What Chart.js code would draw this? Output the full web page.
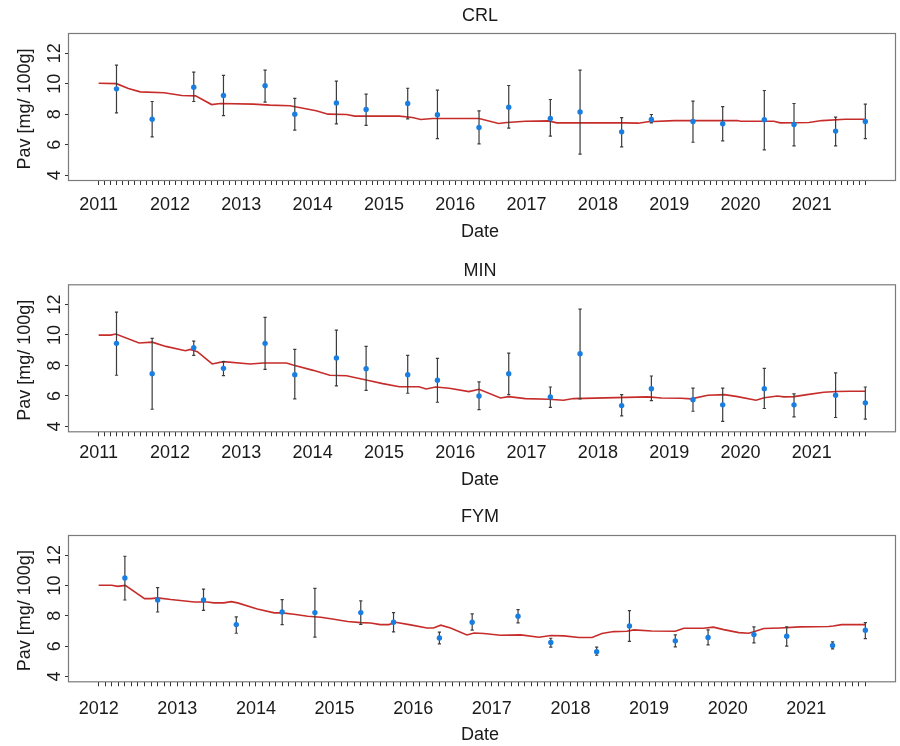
<!DOCTYPE html>
<html>
<head>
<meta charset="utf-8">
<script src="https://cdn.jsdelivr.net/npm/chart.js@4.4.1/dist/chart.umd.min.js"></script>
<style>
  html, body { margin: 0; padding: 0; background: #fff; }
  body { width: 900px; height: 746px; position: relative; overflow: hidden; }
  .panel { position: absolute; left: 0; width: 900px; }
  .panel canvas { display: block; }
</style>
</head>
<body>
<div class="panel" style="top:0px;height:250px"><canvas id="crl" width="900" height="250"></canvas></div>
<div class="panel" style="top:250px;height:245px"><canvas id="min" width="900" height="245"></canvas></div>
<div class="panel" style="top:495px;height:251px"><canvas id="fym" width="900" height="251"></canvas></div>
<script>
const FONT = '"Liberation Sans", Arial, Helvetica, sans-serif';
const TEXT = "#1a1a1a";

// month index 0 = January of the first year on each axis
const yearsA = [2011, 2012, 2013, 2014, 2015, 2016, 2017, 2018, 2019, 2020, 2021];
const yearsB = [2012, 2013, 2014, 2015, 2016, 2017, 2018, 2019, 2020, 2021];
const yTicks = [4, 6, 8, 10, 12];

// ── CRL ──
const crlMonths = [3, 9, 16, 21, 28, 33, 40, 45, 52, 57, 64, 69, 76, 81, 88, 93, 100, 105, 112, 117, 124, 129];
const crlMean = [9.66, 7.67, 9.77, 9.22, 9.86, 8.0, 8.74, 8.31, 8.70, 7.96, 7.13, 8.46, 7.72, 8.15, 6.84, 7.65, 7.52, 7.37, 7.63, 7.32, 6.89, 7.52];
const crlLow = [8.09, 6.51, 8.83, 7.91, 8.79, 6.95, 7.37, 7.26, 7.69, 6.40, 6.05, 7.08, 6.56, 5.38, 5.86, 7.43, 6.16, 6.25, 5.66, 5.92, 5.92, 6.40];
const crlHigh = [11.21, 8.83, 10.75, 10.54, 10.89, 9.03, 10.16, 9.31, 9.70, 9.57, 8.22, 9.88, 8.96, 10.89, 7.78, 7.98, 8.85, 8.50, 9.55, 8.70, 7.80, 8.66];
const crlLineMonths = [0, 3, 5, 7, 11, 14, 16.3, 19, 20.5, 26, 28.8, 32.2, 36.6, 38.6, 41.7, 43.1, 50.6, 52.8, 54.2, 56.2, 64, 67.3, 68.7, 71.8, 75.7, 77.1, 88.5, 90.8, 92.4, 96.9, 107.5, 108, 113.6, 114.7, 119.5, 121.7, 125.6, 129];
const crlLineValues = [10.03, 10.0, 9.68, 9.46, 9.40, 9.22, 9.20, 8.63, 8.70, 8.66, 8.59, 8.55, 8.22, 8.0, 7.98, 7.87, 7.87, 7.78, 7.65, 7.72, 7.72, 7.39, 7.45, 7.54, 7.56, 7.43, 7.43, 7.41, 7.50, 7.58, 7.58, 7.54, 7.54, 7.43, 7.45, 7.58, 7.67, 7.67];

// ── MIN ──
const minMonths = [3, 9, 16, 21, 28, 33, 40, 45, 52, 57, 64, 69, 76, 81, 88, 93, 100, 105, 112, 117, 124, 129];
const minMean = [9.45, 7.46, 9.16, 7.81, 9.45, 7.40, 8.49, 7.79, 7.40, 7.03, 6.0, 7.46, 5.94, 8.77, 5.37, 6.48, 5.76, 5.42, 6.48, 5.42, 6.05, 5.55];
const minLow = [7.36, 5.13, 8.66, 7.33, 7.75, 5.81, 6.66, 6.37, 6.18, 5.59, 5.11, 6.09, 5.26, 5.81, 4.70, 5.70, 5.0, 4.33, 5.18, 4.63, 4.59, 4.48];
const minHigh = [11.49, 9.77, 9.60, 8.25, 11.15, 9.05, 10.32, 9.25, 8.66, 8.47, 6.92, 8.81, 6.59, 11.69, 6.09, 7.31, 6.51, 6.51, 7.81, 6.14, 7.51, 6.59];
const minLineMonths = [0, 2.0, 2.9, 6.8, 9.0, 11.3, 14.6, 15.45, 16.6, 19.1, 21.0, 25.5, 27.7, 31.6, 32.7, 36.1, 38.9, 41.7, 45.6, 47.8, 50.6, 53.9, 55.1, 56.7, 59.0, 62.3, 64.0, 67.6, 69.0, 71.8, 75.7, 78.2, 79.9, 92.4, 94.7, 98.0, 99.7, 102.5, 105.3, 107.5, 110.6, 112.0, 114.2, 115.3, 117.0, 119.2, 122.0, 124.2, 126.5, 129];
const minLineValues = [9.99, 9.99, 10.06, 9.47, 9.53, 9.25, 8.97, 9.05, 8.90, 8.10, 8.25, 8.10, 8.16, 8.16, 8.03, 7.68, 7.36, 7.33, 7.0, 6.81, 6.61, 6.61, 6.46, 6.59, 6.51, 6.29, 6.44, 5.87, 5.96, 5.83, 5.79, 5.72, 5.83, 5.94, 5.87, 5.85, 5.81, 6.05, 6.09, 5.96, 5.72, 5.89, 6.0, 5.94, 5.96, 6.09, 6.24, 6.29, 6.31, 6.31];

// ── FYM ──
const fymMonths = [4, 9, 16, 21, 28, 33, 40, 45, 52, 57, 64, 69, 76, 81, 88, 93, 100, 105, 112, 117];
const fymMean = [10.49, 9.04, 9.04, 7.42, 8.25, 8.21, 8.21, 7.57, 6.54, 7.57, 7.97, 6.24, 5.64, 7.33, 6.35, 6.57, 6.76, 6.65, 6.04, 7.05];
const fymLow = [9.04, 8.25, 8.36, 6.85, 7.42, 6.59, 7.44, 6.94, 6.15, 7.05, 7.53, 5.93, 5.40, 6.32, 5.95, 6.08, 6.21, 6.0, 5.82, 6.5];
const fymHigh = [11.92, 9.86, 9.75, 7.93, 9.07, 9.81, 8.98, 8.21, 6.92, 8.12, 8.41, 6.52, 5.93, 8.34, 6.74, 7.07, 7.27, 7.27, 6.28, 7.55];
const fymLineMonths = [0, 2.0, 2.9, 4.06, 7.0, 8.0, 9.0, 11.0, 14.6, 16.6, 17.6, 19.1, 20.2, 21.2, 24.2, 26.8, 28.0, 29.8, 31.9, 33.9, 35.9, 38.0, 40.0, 41.5, 43.0, 44.3, 45.3, 47.6, 50.1, 51.1, 52.2, 53.7, 56.2, 57.3, 58.8, 61.3, 64.4, 67.2, 69.0, 71.0, 73.3, 75.3, 76.8, 78.6, 80.6, 81.7, 84.4, 88.0, 89.3, 92.3, 93.8, 95.4, 97.7, 99.2, 100.1, 101.5, 104.0, 107.0, 111.4, 112.1, 113.4, 117];
const fymLineValues = [10.01, 10.01, 9.94, 10.0, 9.13, 9.13, 9.18, 9.07, 8.91, 8.91, 8.85, 8.85, 8.93, 8.85, 8.45, 8.19, 8.19, 8.1, 7.97, 7.9, 7.77, 7.62, 7.55, 7.53, 7.42, 7.42, 7.57, 7.4, 7.2, 7.2, 7.38, 7.2, 6.74, 6.87, 6.83, 6.72, 6.74, 6.59, 6.70, 6.68, 6.57, 6.57, 6.83, 6.96, 6.98, 7.07, 7.0, 6.98, 7.18, 7.18, 7.25, 7.09, 6.89, 6.85, 6.96, 7.16, 7.2, 7.27, 7.29, 7.33, 7.42, 7.42];

// ── Panel builder ──────────────────────────────────────

function makePanel(id, title, years, lastMonth, s, layout) {
  const pad = lastMonth * 0.04;
  const tickMonths = [];
  for (let m = 0; m <= lastMonth; m++) tickMonths.push(m);

  const decor = {
    id: "decor_" + id,
    beforeDatasetDraw(chart, args) {
      if (args.index !== 1) return;
      // error bars under the points
      const { ctx, scales } = chart;
      ctx.save();
      ctx.strokeStyle = "#3c3c3c";
      ctx.lineWidth = 1.2;
      s.months.forEach((m, i) => {
        const x = scales.x.getPixelForValue(m);
        const y0 = scales.y.getPixelForValue(s.low[i]);
        const y1 = scales.y.getPixelForValue(s.high[i]);
        ctx.beginPath();
        ctx.moveTo(x, y0); ctx.lineTo(x, y1);
        ctx.moveTo(x - 1.6, y0); ctx.lineTo(x + 1.6, y0);
        ctx.moveTo(x - 1.6, y1); ctx.lineTo(x + 1.6, y1);
        ctx.stroke();
      });
      ctx.restore();
    },
    afterDraw(chart) {
      const { ctx, chartArea: a, scales } = chart;
      ctx.save();
      ctx.strokeStyle = "#7a7a7a";
      ctx.lineWidth = 1.2;
      ctx.strokeRect(a.left + 0.5, a.top + 0.5, a.right - a.left - 1, a.bottom - a.top - 1);

      ctx.fillStyle = TEXT;
      ctx.font = "18px " + FONT;
      ctx.textAlign = "center";
      ctx.textBaseline = "middle";
      const cx = (a.left + a.right) / 2;
      ctx.fillText(title, cx - 2, layout.titleY);
      ctx.fillText("Date", cx - 2, layout.dateY);

      ctx.textBaseline = "alphabetic";
      yTicks.forEach((v) => {
        ctx.save();
        ctx.translate(59.5, scales.y.getPixelForValue(v));
        ctx.rotate(-Math.PI / 2);
        ctx.fillText(String(v), 0, 0);
        ctx.restore();
      });
      ctx.save();
      ctx.translate(30, (a.top + a.bottom) / 2 + 2);
      ctx.rotate(-Math.PI / 2);
      ctx.fillText("Pav [mg/ 100g]", 0, 0);
      ctx.restore();
      ctx.restore();
    },
  };

  return new Chart(document.getElementById(id), {
    type: "scatter",
    data: {
      datasets: [
        {
          data: s.lineMonths.map((m, i) => ({ x: m, y: s.lineValues[i] })),
          showLine: true,
          borderColor: "#c62d2a",
          borderWidth: 1.6,
          pointRadius: 0,
          tension: 0,
          order: 2,
        },
        {
          data: s.months.map((m, i) => ({ x: m, y: s.mean[i] })),
          backgroundColor: "#1a7ee0",
          borderWidth: 0,
          pointRadius: 2.7,
          order: 1,
        },
      ],
    },
    options: {
      responsive: false,
      animation: false,
      devicePixelRatio: 1,
      events: [],
      layout: { padding: { top: layout.areaTop, left: 0, right: 3, bottom: 0 } },
      plugins: { legend: { display: false }, tooltip: { enabled: false }, title: { display: false } },
      scales: {
        x: {
          type: "linear",
          min: -pad,
          max: lastMonth + pad,
          afterBuildTicks: (sc) => { sc.ticks = tickMonths.map((v) => ({ value: v })); },
          afterFit: (sc) => { sc.height = layout.height - layout.areaBottom; },
          border: { display: false },
          grid: { drawOnChartArea: false, drawTicks: true, tickLength: 4, color: "#333", lineWidth: 1 },
          ticks: {
            autoSkip: false,
            maxRotation: 0,
            minRotation: 0,
            padding: Math.round(layout.tickLabelY - layout.areaBottom - 14),
            color: TEXT,
            font: { family: FONT, size: 18 },
            callback: (v) => (v % 12 === 0 && years[v / 12] ? String(years[v / 12]) : ""),
          },
        },
        y: {
          min: 3.62,
          max: 13.32,
          afterBuildTicks: (sc) => { sc.ticks = yTicks.map((v) => ({ value: v })); },
          afterFit: (sc) => { sc.width = 68; },
          border: { display: false },
          grid: { drawOnChartArea: false, drawTicks: true, tickLength: 3, color: "#333", lineWidth: 1 },
          ticks: { display: false },
        },
      },
    },
    plugins: [decor],
  });
}

makePanel("crl", "CRL", yearsA, 129,
  { months: crlMonths, mean: crlMean, low: crlLow, high: crlHigh, lineMonths: crlLineMonths, lineValues: crlLineValues },
  { height: 250, areaTop: 33, areaBottom: 181, titleY: 16, tickLabelY: 204, dateY: 232 });

makePanel("min", "MIN", yearsA, 129,
  { months: minMonths, mean: minMean, low: minLow, high: minHigh, lineMonths: minLineMonths, lineValues: minLineValues },
  { height: 245, areaTop: 34.3, areaBottom: 182.3, titleY: 21.2, tickLabelY: 202.5, dateY: 230 });

makePanel("fym", "FYM", yearsB, 117,
  { months: fymMonths, mean: fymMean, low: fymLow, high: fymHigh, lineMonths: fymLineMonths, lineValues: fymLineValues },
  { height: 251, areaTop: 40, areaBottom: 187.3, titleY: 22.2, tickLabelY: 213.3, dateY: 240 });
</script>
</body>
</html>
